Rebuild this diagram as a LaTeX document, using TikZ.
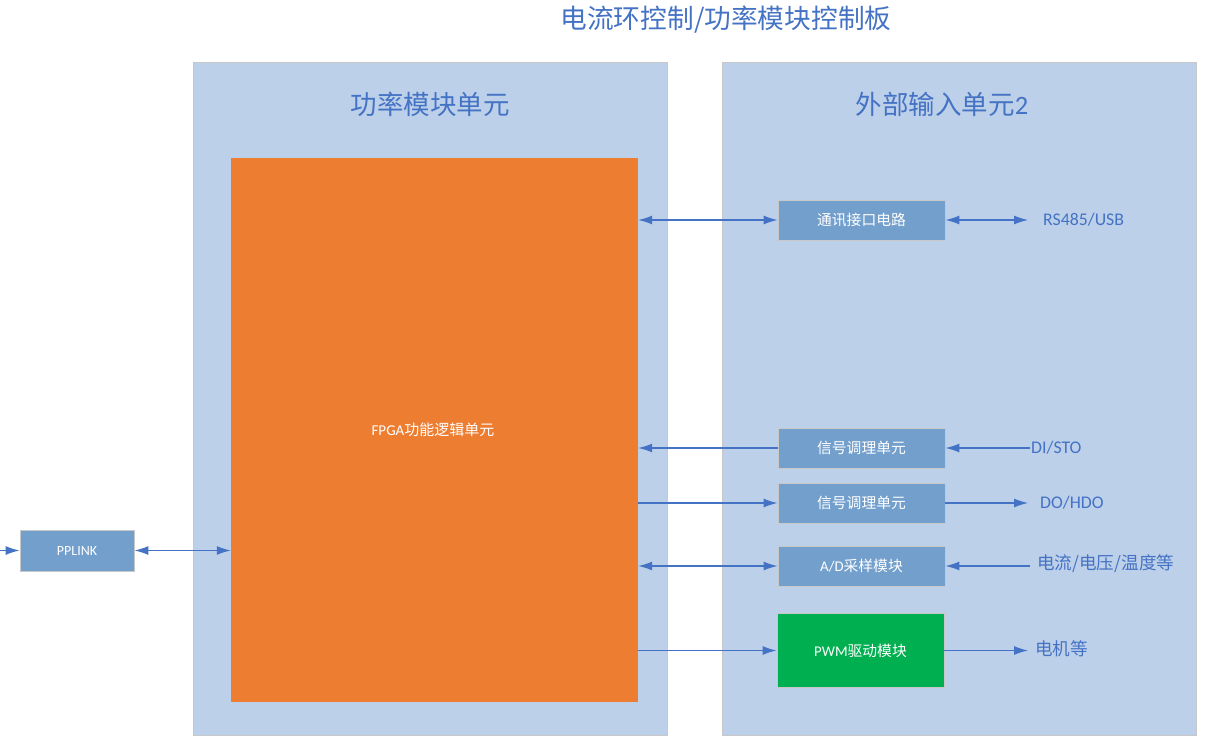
\documentclass[tikz,border=0pt]{standalone}
\usepackage{fontspec}
\setmainfont{Noto Sans CJK SC}
\newfontfamily\lat{Carlito}
\usetikzlibrary{arrows.meta}
\definecolor{panelc}{HTML}{BDD0E9}
\definecolor{panelb}{HTML}{C8C8C8}
\definecolor{fpgac}{HTML}{ED7D31}
\definecolor{boxc}{HTML}{739FCD}
\definecolor{greenc}{HTML}{00B050}
\definecolor{linec}{HTML}{4472C4}
\definecolor{txtc}{HTML}{4472C4}
\tikzset{
  panel/.style={draw=panelb, line width=0.8pt, fill=panelc},
  blk/.style={draw=panelb, line width=0.8pt, fill=boxc, text=white, font=\fontsize{14.8}{17}\selectfont, inner sep=0pt},
  conn/.style={draw=linec, line width=1.3pt, -{Latex[length=14pt,width=9pt]}},
  bconn/.style={draw=linec, line width=1.3pt, {Latex[length=14pt,width=9pt]}-{Latex[length=14pt,width=9pt]}},
  lbl/.style={text=txtc, anchor=west, inner sep=0pt},
}
\begin{document}
\begin{tikzpicture}[x=1pt,y=-1pt]
\useasboundingbox (0,0) rectangle (1218,745);
% title
\node[text=txtc, font=\fontsize{26.7}{30}\selectfont] (title) at (726,20) {电流环控制/功率模块控制板};
% panels
\path[panel] (193,62) rectangle (667,735);
\path[panel] (722,62) rectangle (1196,735);
\node[text=txtc, font=\fontsize{26.5}{30}\selectfont] (lt) at (430,104) {功率模块单元};
\node[text=txtc, font=\fontsize{26.5}{30}\selectfont] (rt) at (942,104) {外部输入单元{\lat 2}};
% FPGA
\node[fill=fpgac, minimum width=407pt, minimum height=544pt, inner sep=0pt] (fpga) at (434.5,430) {};
\node[text=white, font=\fontsize{15}{17}\selectfont] (fpgat) at (433,430) {{\lat FPGA}功能逻辑单元};
% boxes
\node[blk, minimum width=167pt, minimum height=40pt] (com) at (861.5,220) {通讯接口电路};
\node[blk, minimum width=167pt, minimum height=40pt] (sig1) at (861.5,448) {信号调理单元};
\node[blk, minimum width=167pt, minimum height=40pt] (sig2) at (861.5,503) {信号调理单元};
\node[blk, minimum width=167pt, minimum height=40pt] (ad) at (861.5,566) {{\lat A/D}采样模块};
\node[blk, fill=greenc, minimum width=167pt, minimum height=74pt] (pwm) at (860.5,650.5) {{\lat PWM}驱动模块};
\node[blk, minimum width=114pt, minimum height=41pt] (pp) at (77,550.5) {{\lat\fontsize{14}{16}\selectfont PPLINK}};
% external coordinates / labels
\coordinate (ein) at (0,550.5);
\coordinate (rsend) at (1028,220);
\node[lbl, font=\lat\fontsize{17.8}{20}\selectfont] (rs) at (1043,220) {RS485/USB};
\coordinate (distart) at (1030,448);
\node[lbl, font=\lat\fontsize{17.8}{20}\selectfont] (di) at (1031,448) {DI/STO};
\coordinate (doend) at (1028,503);
\node[lbl, font=\lat\fontsize{17.8}{20}\selectfont] (do) at (1040,503) {DO/HDO};
\coordinate (adstart) at (1030,566);
\node[lbl, font=\fontsize{17.6}{20}\selectfont] (adl) at (1037,564) {电流/电压/温度等};
\coordinate (motend) at (1028,650.5);
\node[lbl, font=\fontsize{17.6}{20}\selectfont] (mot) at (1035,649) {电机等};
% connectors
\draw[conn] (ein) -- (pp.west);
\draw[bconn] (pp.east) -- (fpga.west |- pp.east);
\draw[bconn] (fpga.east |- com.west) -- (com.west);
\draw[bconn] (com.east) -- (rsend);
\draw[conn] (sig1.west) -- (fpga.east |- sig1.west);
\draw[conn] (distart) -- (sig1.east);
\draw[conn] (fpga.east |- sig2.west) -- (sig2.west);
\draw[conn] (sig2.east) -- (doend);
\draw[bconn] (fpga.east |- ad.west) -- (ad.west);
\draw[conn] (adstart) -- (ad.east);
\draw[conn] (fpga.east |- pwm.west) -- (pwm.west);
\draw[conn] (pwm.east) -- (motend);
\end{tikzpicture}
\end{document}
